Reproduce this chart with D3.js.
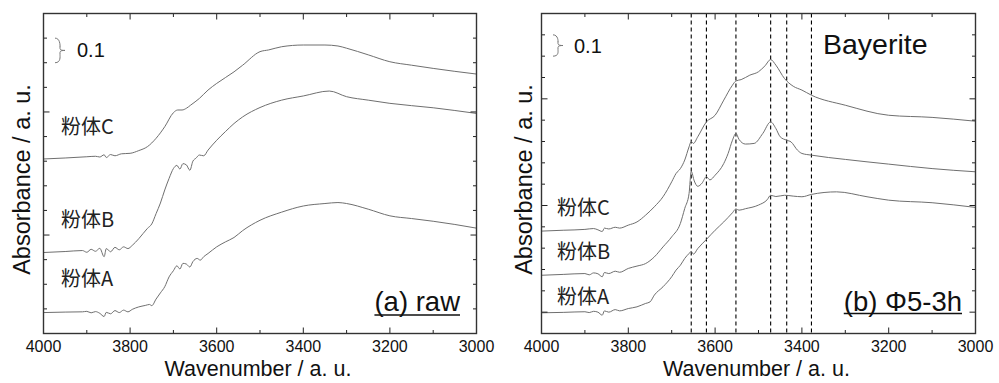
<!DOCTYPE html>
<html>
<head>
<meta charset="utf-8">
<script src="https://cdn.jsdelivr.net/npm/d3@7"></script>
<style>
  html, body { margin: 0; padding: 0; background: #fff; }
  svg { display: block; font-family: "Liberation Sans", Arial, sans-serif; }
</style>
</head>
<body>
<div id="chart"></div>
<script>
// ─── Data (wavenumber, absorbance) ───────────────────────────
const xTicks = [4000, 3800, 3600, 3400, 3200, 3000];
const bayeriteBands = [3655, 3620, 3552, 3472, 3435, 3378];
const sampleNames = ["粉体A", "粉体B", "粉体C"];

// (a) raw
const rawA = [[4000,0.085],[3950,0.087],[3910,0.088],[3900,0.090],[3890,0.084],[3880,0.089],[3870,0.082],[3860,0.069],[3855,0.086],[3845,0.080],[3835,0.093],[3825,0.085],[3815,0.095],[3805,0.088],[3795,0.098],[3780,0.108],[3765,0.114],[3755,0.118],[3750,0.113],[3740,0.140],[3730,0.165],[3720,0.190],[3710,0.230],[3700,0.255],[3692,0.275],[3685,0.262],[3678,0.285],[3670,0.282],[3662,0.270],[3655,0.292],[3645,0.305],[3638,0.298],[3630,0.312],[3620,0.325],[3600,0.352],[3580,0.372],[3560,0.390],[3540,0.418],[3500,0.460],[3450,0.493],[3400,0.518],[3350,0.528],[3320,0.532],[3300,0.528],[3250,0.505],[3200,0.478],[3150,0.467],[3100,0.456],[3050,0.443],[3000,0.428]];
const rawB = [[4000,0.329],[3950,0.333],[3910,0.337],[3900,0.330],[3890,0.342],[3880,0.334],[3870,0.346],[3860,0.312],[3855,0.345],[3845,0.332],[3835,0.350],[3825,0.340],[3815,0.352],[3805,0.345],[3795,0.358],[3780,0.385],[3760,0.427],[3750,0.445],[3740,0.487],[3730,0.530],[3720,0.583],[3710,0.630],[3700,0.670],[3692,0.683],[3685,0.668],[3678,0.690],[3670,0.685],[3662,0.663],[3655,0.700],[3648,0.712],[3640,0.725],[3630,0.722],[3620,0.745],[3600,0.785],[3580,0.820],[3560,0.853],[3540,0.880],[3500,0.918],[3450,0.948],[3400,0.965],[3340,0.985],[3300,0.962],[3250,0.948],[3200,0.935],[3100,0.917],[3000,0.894]];
const rawC = [[4000,0.709],[3950,0.713],[3900,0.718],[3880,0.720],[3870,0.717],[3860,0.726],[3855,0.715],[3845,0.727],[3835,0.722],[3820,0.730],[3800,0.732],[3780,0.743],[3760,0.759],[3740,0.793],[3720,0.840],[3700,0.897],[3690,0.908],[3680,0.908],[3670,0.915],[3660,0.928],[3640,0.955],[3620,0.989],[3600,1.016],[3560,1.063],[3540,1.090],[3500,1.145],[3480,1.152],[3450,1.165],[3400,1.172],[3350,1.172],[3320,1.168],[3300,1.159],[3250,1.132],[3200,1.104],[3150,1.090],[3100,1.077],[3050,1.065],[3000,1.054]];

// (b) Φ5-3h
const phiA = [[4000,0.097],[3950,0.099],[3900,0.102],[3890,0.098],[3880,0.104],[3870,0.100],[3860,0.086],[3855,0.106],[3845,0.100],[3830,0.112],[3820,0.106],[3800,0.117],[3780,0.125],[3760,0.141],[3750,0.148],[3740,0.180],[3720,0.219],[3700,0.266],[3690,0.297],[3680,0.320],[3670,0.352],[3660,0.375],[3655,0.385],[3650,0.372],[3640,0.398],[3620,0.441],[3600,0.484],[3580,0.523],[3560,0.566],[3552,0.584],[3545,0.578],[3530,0.585],[3500,0.602],[3480,0.627],[3472,0.648],[3460,0.642],[3440,0.648],[3420,0.644],[3400,0.641],[3378,0.652],[3320,0.664],[3250,0.641],[3200,0.625],[3100,0.613],[3000,0.591]];
const phiB = [[4000,0.273],[3950,0.277],[3900,0.281],[3890,0.275],[3880,0.284],[3870,0.280],[3860,0.266],[3855,0.286],[3845,0.281],[3830,0.292],[3820,0.287],[3800,0.305],[3780,0.316],[3760,0.328],[3740,0.359],[3720,0.406],[3700,0.453],[3680,0.516],[3670,0.586],[3660,0.656],[3655,0.760],[3648,0.715],[3640,0.690],[3630,0.705],[3620,0.735],[3612,0.720],[3600,0.742],[3580,0.797],[3570,0.844],[3560,0.906],[3552,0.938],[3545,0.910],[3530,0.888],[3510,0.891],[3490,0.938],[3472,0.992],[3460,0.961],[3450,0.922],[3435,0.906],[3425,0.898],[3410,0.859],[3400,0.844],[3378,0.836],[3300,0.816],[3200,0.794],[3100,0.773],[3000,0.758]];
const phiC = [[4000,0.480],[3950,0.484],[3900,0.488],[3880,0.492],[3870,0.486],[3860,0.478],[3855,0.494],[3845,0.490],[3830,0.498],[3820,0.494],[3800,0.508],[3780,0.523],[3760,0.555],[3740,0.594],[3720,0.641],[3700,0.711],[3690,0.750],[3680,0.773],[3670,0.813],[3660,0.875],[3655,0.900],[3650,0.891],[3640,0.922],[3620,0.992],[3600,1.023],[3580,1.094],[3560,1.164],[3552,1.184],[3540,1.190],[3520,1.211],[3500,1.227],[3485,1.255],[3472,1.284],[3460,1.258],[3440,1.195],[3420,1.159],[3400,1.141],[3378,1.117],[3300,1.070],[3200,1.023],[3100,1.013],[3000,0.995]];

// ─── Layout ──────────────────────────────────────────────────
const W = 999, H = 383;
const svg = d3.select("#chart").append("svg")
  .attr("width", W).attr("height", H)
  .attr("viewBox", `0 0 ${W} ${H}`);

const panels = [
  { x0: 43.5, x1: 476.5, yMax: 1.3, series: [rawA, rawB, rawC],
    labels: [{ v: 0.22, name: sampleNames[0] }, { v: 0.46, name: sampleNames[1] }, { v: 0.84, name: sampleNames[2] }],
    labelX: 61, brace: [1.1, 1.2], braceX: 55, scaleX: 77,
    major: v => Math.abs(((v - 0.4) * 10) % 5) < 0.01,
    title: "(a) raw", bands: [] },
  { x0: 541.5, x1: 975.5, yMax: 1.5, series: [phiA, phiB, phiC],
    labels: [{ v: 0.17, name: sampleNames[0] }, { v: 0.38, name: sampleNames[1] }, { v: 0.59, name: sampleNames[2] }],
    labelX: 557, brace: [1.3, 1.4], braceX: 553, scaleX: 574,
    major: v => Math.abs(((v - 0.1) * 10) % 5) < 0.01,
    title: "(b) Φ5-3h", bands: bayeriteBands }
];
const yTop = 13.5, yBot = 333.5;
const ink = "#222";

panels.forEach((p, pi) => {
  const x = d3.scaleLinear().domain([4000, 3000]).range([p.x0, p.x1]);
  const y = d3.scaleLinear().domain([0, p.yMax]).range([yBot, yTop]);
  const g = svg.append("g");

  // bayerite reference lines
  g.selectAll("line.band")
    .data(p.bands)
    .join("line")
    .attr("class", "band")
    .attr("x1", d => x(d)).attr("x2", d => x(d))
    .attr("y1", yTop).attr("y2", yBot)
    .attr("stroke", "#000")
    .attr("stroke-width", 1.1)
    .attr("stroke-dasharray", "4,3");

  // spectra
  const line = d3.line()
    .x(d => x(d[0]))
    .y(d => y(d[1]))
    .curve(d3.curveMonotoneX);
  g.selectAll("path.spec")
    .data(p.series)
    .join("path")
    .attr("class", "spec")
    .attr("d", line)
    .attr("fill", "none")
    .attr("stroke", "#6f6f6f")
    .attr("stroke-width", 1);

  // ticks (inward on all four sides)
  const xMinor = d3.range(3000, 4001, 100);
  const yVals = d3.range(1, Math.round(p.yMax * 10)).map(i => i / 10);
  const tk = g.append("g").attr("stroke", ink).attr("stroke-width", 1);
  xMinor.forEach(v => {
    const len = v % 200 === 0 ? 6 : 3.5;
    tk.append("line").attr("x1", x(v)).attr("x2", x(v)).attr("y1", yBot).attr("y2", yBot - len);
    tk.append("line").attr("x1", x(v)).attr("x2", x(v)).attr("y1", yTop).attr("y2", yTop + len);
  });
  yVals.forEach(v => {
    const len = p.major(v) ? 6 : 3.5;
    tk.append("line").attr("x1", p.x0).attr("x2", p.x0 + len).attr("y1", y(v)).attr("y2", y(v));
    tk.append("line").attr("x1", p.x1).attr("x2", p.x1 - len).attr("y1", y(v)).attr("y2", y(v));
  });

  // frame
  g.append("rect")
    .attr("x", p.x0).attr("y", yTop)
    .attr("width", p.x1 - p.x0).attr("height", yBot - yTop)
    .attr("fill", "none")
    .attr("stroke", "#333")
    .attr("stroke-width", 1.4);

  // x tick labels
  g.selectAll("text.xt")
    .data(xTicks)
    .join("text")
    .attr("class", "xt")
    .attr("x", d => x(d))
    .attr("y", 352)
    .attr("text-anchor", "middle")
    .attr("font-size", 16)
    .attr("fill", "#111")
    .text(d => d);

  // axis titles
  g.append("text")
    .attr("x", (p.x0 + p.x1) / 2 - 2)
    .attr("y", 376)
    .attr("text-anchor", "middle")
    .attr("font-size", 21.5)
    .attr("fill", "#111")
    .text("Wavenumber / a. u.");
  const ytx = pi === 0 ? 30 : 532;
  g.append("text")
    .attr("transform", `translate(${ytx},${(yTop + yBot) / 2 + 6}) rotate(-90)`)
    .attr("text-anchor", "middle")
    .attr("font-size", 23.5)
    .attr("fill", "#111")
    .text("Absorbance / a. u.");

  // sample labels
  g.selectAll("text.lab")
    .data(p.labels)
    .join("text")
    .attr("class", "lab")
    .attr("x", p.labelX)
    .attr("y", d => y(d.v) + 7)
    .attr("font-size", 20)
    .attr("font-family", "'Noto Sans CJK JP', 'Liberation Sans', sans-serif")
    .attr("fill", "#222")
    .text(d => d.name);

  // 0.1 scale brace
  const b0 = y(p.brace[1]), b1 = y(p.brace[0]), bm = (b0 + b1) / 2, bx = p.braceX;
  g.append("path")
    .attr("d", `M${bx},${b0} C${bx + 6},${b0} ${bx + 5},${bm - 2} ${bx + 5},${bm - 4} L${bx + 5},${bm - 2} C${bx + 5},${bm} ${bx + 8},${bm} ${bx + 10},${bm} C${bx + 8},${bm} ${bx + 5},${bm} ${bx + 5},${bm + 2} L${bx + 5},${bm + 4} C${bx + 5},${bm + 6} ${bx + 6},${b1} ${bx},${b1}`)
    .attr("fill", "none")
    .attr("stroke", "#777")
    .attr("stroke-width", 1);
  g.append("text")
    .attr("x", p.scaleX)
    .attr("y", bm + 7)
    .attr("font-size", 20)
    .attr("fill", "#111")
    .text("0.1");

  // panel title, underlined
  const right = pi === 0 ? 460 : 962;
  const t = g.append("text")
    .attr("x", right)
    .attr("y", 311)
    .attr("text-anchor", "end")
    .attr("font-size", 27.5)
    .attr("fill", "#111")
    .text(p.title);
  const tw = t.node().getComputedTextLength();
  g.append("line")
    .attr("x1", right - tw).attr("x2", right)
    .attr("y1", pi === 0 ? 315 : 313.5).attr("y2", pi === 0 ? 315 : 313.5)
    .attr("stroke", "#111")
    .attr("stroke-width", 1.6);
});

svg.append("text")
  .attr("x", 823)
  .attr("y", 53.5)
  .attr("font-size", 28.5)
  .attr("fill", "#111")
  .text("Bayerite");
</script>
</body>
</html>
